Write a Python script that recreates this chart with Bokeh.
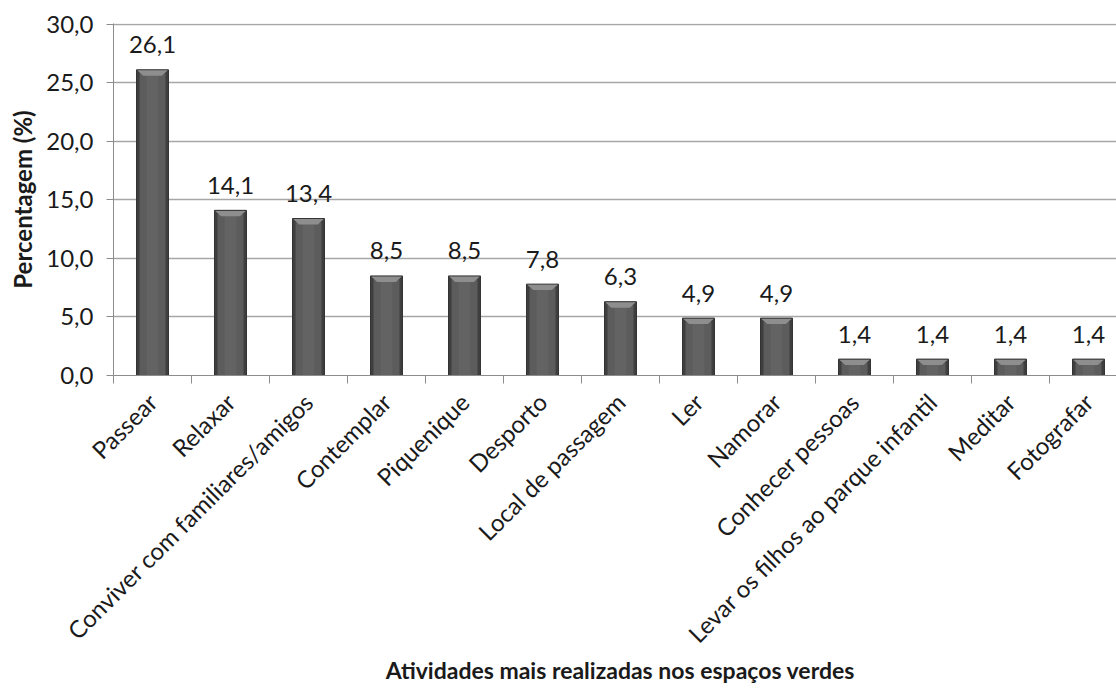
from bokeh.plotting import figure
from bokeh.models import Range1d, FixedTicker, ColumnDataSource, Div
from bokeh.layouts import column
from bokeh.embed import file_html
from bokeh.resources import INLINE
from bokeh.core.properties import value

categories = ["Passear", "Relaxar", "Conviver com familiares/amigos", "Contemplar",
              "Piquenique", "Desporto", "Local de passagem", "Ler", "Namorar",
              "Conhecer pessoas", "Levar os filhos ao parque infantil", "Meditar", "Fotografar"]
values = [26.1, 14.1, 13.4, 8.5, 8.5, 7.8, 6.3, 4.9, 4.9, 1.4, 1.4, 1.4, 1.4]
y_ticks = [0, 5, 10, 15, 20, 25, 30]
y_tick_labels = ["0,0", "5,0", "10,0", "15,0", "20,0", "25,0", "30,0"]
y_title = "Percentagem (%)"
x_title = "Atividades mais realizadas nos espaços verdes"

FONT = "Lato"
W = 1116
FIG_H = 662
DIV_H = 688 - FIG_H
LEFT, TOP = 113, 23
BOTTOM = FIG_H - 375
PX_PER_CAT = 78.0

n = len(categories)
centers = [i + 0.5 for i in range(n)]
labels = [f"{v:.1f}".replace(".", ",") for v in values]

frame_w = W - LEFT
x_end = frame_w / PX_PER_CAT

p = figure(width=W, height=FIG_H, output_backend="svg", toolbar_location=None,
           x_range=Range1d(0, x_end), y_range=Range1d(0, 30.05),
           min_border_left=LEFT, min_border_right=0, min_border_top=TOP,
           min_border_bottom=BOTTOM)
p.outline_line_color = None
p.background_fill_color = "white"
p.border_fill_color = "white"

# bars with bevel look
bw = 0.41
px_y = 352.0 / 30.0
bevel_h = 6.0 / px_y
side = 3.0 / PX_PER_CAT
src = ColumnDataSource(dict(x=centers, top=values, lab=labels,
                            inner_top=[v - bevel_h * 0.6 for v in values]))
p.vbar(x="x", top="top", bottom=0, width=bw, source=src,
       fill_color="#3f3f3f", line_color="#333333", line_width=1)
p.vbar(x="x", top="inner_top", bottom=0, width=bw - 2 * side, source=src,
       fill_color="#5c5c5c", line_color=None)
p.vbar(x="x", top="inner_top", bottom=0, width=(bw - 2 * side) * 0.45, source=src,
       fill_color="#636363", line_color=None)
xs, ys = [], []
for c, v in zip(centers, values):
    xs.append([c - bw / 2 + 0.01, c + bw / 2 - 0.01, c + bw / 2 - side * 2.2, c - bw / 2 + side * 2.2])
    ys.append([v - 0.05, v - 0.05, v - bevel_h, v - bevel_h])
p.patches(xs, ys, fill_color="#8e8e8e", line_color=None)

p.text(x="x", y="top", text="lab", source=src, text_align="center",
       text_baseline="alphabetic", y_offset=-25, text_font=value(FONT),
       text_font_size="24px", text_color="#1a1a1a")

# y axis
yax = p.yaxis[0]
yax.ticker = FixedTicker(ticks=y_ticks)
yax.major_label_overrides = {t: l for t, l in zip(y_ticks, y_tick_labels)}
yax.major_label_text_font = FONT
yax.major_label_text_font_size = "24px"
yax.major_label_text_color = "#1a1a1a"
yax.major_tick_out = 7
yax.major_tick_in = 0
yax.minor_tick_line_color = None
yax.major_tick_line_color = "#8c8c8c"
yax.axis_line_color = "#8c8c8c"
yax.major_label_standoff = 13
yax.axis_label = y_title
yax.axis_label_text_font = FONT
yax.axis_label_text_font_style = "bold"
yax.axis_label_text_font_size = "24px"
yax.axis_label_text_color = "#1a1a1a"
yax.axis_label_standoff = 6

# x axis
xax = p.xaxis[0]
xax.ticker = FixedTicker(ticks=centers, minor_ticks=list(range(n + 1)))
xax.major_label_overrides = {c: name for c, name in zip(centers, categories)}
xax.major_label_orientation = 0.7854
xax.major_label_text_font = FONT
xax.major_label_text_font_size = "24px"
xax.major_label_text_color = "#1a1a1a"
xax.major_tick_line_color = None
xax.major_tick_out = 0
xax.major_tick_in = 0
xax.minor_tick_line_color = "#8c8c8c"
xax.minor_tick_out = 8
xax.minor_tick_in = 0
xax.axis_line_color = "#8c8c8c"
xax.major_label_standoff = 14

p.xgrid.grid_line_color = None
p.ygrid.ticker = FixedTicker(ticks=y_ticks)
p.ygrid.grid_line_color = "#a6a6a6"
p.ygrid.grid_line_width = 1.5

# x-axis title, centred under the category area
title_left = 2 * (LEFT + n * PX_PER_CAT / 2) - W
div = Div(text=x_title, width=W - int(title_left), height=DIV_H,
          margin=(0, 0, 0, int(title_left)),
          styles={"text-align": "center", "font-family": FONT, "font-weight": "bold",
                  "font-size": "23px", "color": "#1a1a1a",
                  "line-height": "16px", "white-space": "nowrap", "overflow": "visible"})

layout = column(p, div, spacing=0)
open("out.html", "w").write(file_html(layout, INLINE))
